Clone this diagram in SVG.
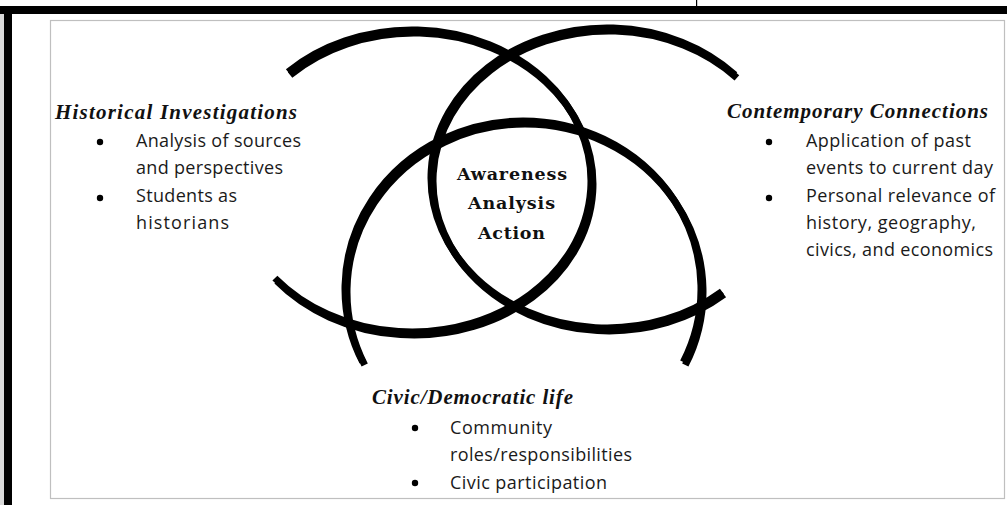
<svg xmlns="http://www.w3.org/2000/svg" xmlns:xlink="http://www.w3.org/1999/xlink" width="1007" height="505" viewBox="0 0 1007 505">
<style>
.arc{fill:none;stroke:#000;stroke-width:7}
.shadow .arc{stroke:#cfcfcf}
.head{font-family:"Liberation Serif",serif;font-weight:bold;font-style:italic;font-size:21px;fill:#111}
.body{font-family:"Open Sans","Liberation Sans",sans-serif;font-size:18px;fill:#1a1a1a}
.mid{font-family:"DejaVu Serif","Liberation Serif",serif;font-weight:bold;font-size:17.5px;fill:#111;text-anchor:middle}
.dot{fill:#000}
</style>
<defs>
<path id="arcA" class="arc" d="M288.1,72 A179,151 0 1 1 274.9,278.1"/>
<path id="arcB" class="arc" d="M734.9,74.9 A176,150 0 1 0 722,291.5"/>
<path id="arcC" class="arc" d="M362.7,362 A178,168 0 1 1 683.3,362"/>
</defs>

<g id="frame">
<rect x="0" y="0" width="1007" height="505" fill="#fff"/>
<rect x="0" y="14" width="4" height="491" fill="#d9d9d9"/>
<rect x="0" y="6" width="1007" height="8" fill="#000"/>
<rect x="4" y="6" width="8" height="499" fill="#000"/>
<rect x="696" y="0" width="1.2" height="6" fill="#000"/>
<rect x="50.5" y="20.5" width="954" height="478" fill="#fff" stroke="#bfbfbf" stroke-width="1.2"/>
</g>

<g id="circles">
<g class="shadow" transform="translate(2,3)">
<use xlink:href="#arcA"/>
<use xlink:href="#arcB"/>
<use xlink:href="#arcC"/>
</g>
<g id="circle-historical"><use xlink:href="#arcA"/></g>
<g id="circle-contemporary"><use xlink:href="#arcB"/></g>
<g id="circle-civic"><use xlink:href="#arcC"/></g>
</g>

<g id="node-center">
<text class="mid" x="512" y="180" textLength="110">Awareness</text>
<text class="mid" x="511.5" y="209" textLength="87">Analysis</text>
<text class="mid" x="511.5" y="239" textLength="67">Action</text>
</g>

<g id="node-historical">
<text class="head" x="55" y="119" textLength="242">Historical Investigations</text>
<circle class="dot" cx="100" cy="142" r="3.2"/>
<circle class="dot" cx="100" cy="198" r="3.2"/>
<text class="body" x="136" y="147" textLength="165">Analysis of sources</text>
<text class="body" x="136" y="174" textLength="147">and perspectives</text>
<text class="body" x="136" y="202" textLength="101">Students as</text>
<text class="body" x="136" y="229" textLength="93">historians</text>
</g>

<g id="node-contemporary">
<text class="head" x="727" y="118" textLength="261">Contemporary Connections</text>
<circle class="dot" cx="769" cy="142" r="3.2"/>
<circle class="dot" cx="769" cy="198" r="3.2"/>
<text class="body" x="806" y="147" textLength="165">Application of past</text>
<text class="body" x="806" y="174" textLength="187">events to current day</text>
<text class="body" x="806" y="202" textLength="189">Personal relevance of</text>
<text class="body" x="806" y="229" textLength="170">history, geography,</text>
<text class="body" x="806" y="256" textLength="187">civics, and economics</text>
</g>

<g id="node-civic">
<text class="head" x="372" y="404" textLength="201">Civic/Democratic life</text>
<circle class="dot" cx="415" cy="428" r="3.2"/>
<circle class="dot" cx="415" cy="483" r="3.2"/>
<text class="body" x="450" y="434" textLength="102">Community</text>
<text class="body" x="450" y="461" textLength="182">roles/responsibilities</text>
<text class="body" x="450" y="489" textLength="157">Civic participation</text>
</g>
</svg>
